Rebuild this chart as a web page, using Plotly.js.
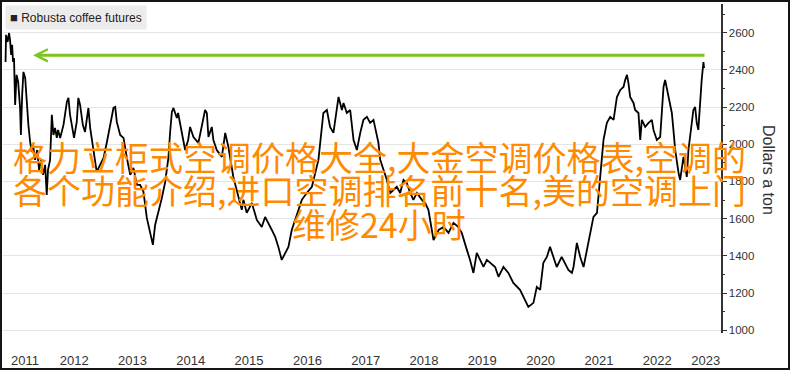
<!DOCTYPE html>
<html>
<head>
<meta charset="utf-8">
<script src="https://cdn.plot.ly/plotly-3.0.1.min.js"></script>
<style>
  html, body { margin: 0; padding: 0; background: #fff; }
  #wrap { position: relative; width: 790px; height: 372px; }
  #chart { width: 790px; height: 372px; }
  #frame { position: absolute; left: 0; top: 0; width: 790px; height: 370px; box-sizing: border-box; border: 2px solid #151515; pointer-events: none; }
</style>
</head>
<body>
<div id="wrap"><div id="chart"></div><div id="frame"></div></div>
<script>
// ---- data ----
const seriesName = 'Robusta coffee futures';
const dates = [
'2011-04-28','2011-05-01','2011-05-11','2011-05-20','2011-05-26','2011-06-02','2011-06-08','2011-06-14','2011-06-20','2011-06-27',
'2011-07-06','2011-07-16','2011-07-28','2011-08-02','2011-08-10','2011-08-18','2011-08-29','2011-09-08','2011-09-18','2011-09-29',
'2011-10-09','2011-10-17','2011-10-30','2011-11-12','2011-11-24','2011-12-07','2011-12-19','2012-01-01','2012-01-11','2012-01-19',
'2012-02-01','2012-02-12','2012-02-22','2012-03-03','2012-03-14','2012-03-22','2012-04-04','2012-04-25','2012-05-16','2012-05-26',
'2012-06-05','2012-06-16','2012-06-30','2012-07-17','2012-07-27','2012-08-07','2012-08-24','2012-09-07','2012-09-28','2012-10-09',
'2012-10-29','2012-11-19','2012-12-10','2013-01-01','2013-01-22','2013-02-11','2013-03-04','2013-03-15','2013-03-25','2013-04-15',
'2013-05-06','2013-05-27','2013-06-17','2013-07-07','2013-07-29','2013-08-18','2013-09-08','2013-09-29','2013-10-20','2013-11-06',
'2013-11-20','2013-12-11','2014-01-01','2014-01-22','2014-02-11','2014-02-22','2014-03-05','2014-03-15','2014-04-05','2014-04-13',
'2014-04-26','2014-05-07','2014-05-27','2014-06-15','2014-06-27','2014-07-18','2014-08-18','2014-09-29','2014-10-10','2014-10-20',
'2014-11-10','2014-11-20','2014-12-11','2015-01-12','2015-02-02','2015-02-22','2015-03-25','2015-05-17','2015-05-27','2015-06-17',
'2015-07-19','2015-08-19','2015-09-19','2015-10-10','2015-10-31','2015-11-21','2015-12-12','2016-01-01','2016-01-22','2016-02-12',
'2016-03-04','2016-03-25','2016-04-15','2016-05-06','2016-05-27','2016-06-27','2016-07-29','2016-09-08','2016-09-29','2016-10-09',
'2016-10-31','2016-11-20','2016-12-11','2017-01-02','2017-01-12','2017-02-02','2017-02-12','2017-03-05','2017-03-26','2017-04-16',
'2017-05-07','2017-05-28','2017-06-17','2017-07-09','2017-07-29','2017-08-19','2017-09-09','2017-09-19','2017-09-30','2017-10-21',
'2017-11-11','2017-12-02','2017-12-22','2018-01-12','2018-02-02','2018-02-23','2018-03-16','2018-04-06','2018-04-26','2018-05-18',
'2018-06-18','2018-07-09','2018-07-29','2018-08-20','2018-08-30','2018-10-01','2018-11-01','2018-12-02','2019-01-02','2019-02-02',
'2019-02-23','2019-03-27','2019-04-16','2019-05-07','2019-05-28','2019-06-18','2019-07-09','2019-07-30','2019-08-20','2019-09-20',
'2019-10-11','2019-11-11','2019-12-12','2020-01-12','2020-02-23','2020-03-26','2020-04-15','2020-05-17','2020-06-07','2020-06-28',
'2020-07-18','2020-08-09','2020-08-29','2020-09-19','2020-10-10','2020-11-10','2020-12-01','2020-12-22','2021-01-13','2021-01-23',
'2021-02-13','2021-03-06','2021-03-27','2021-04-17','2021-05-08','2021-05-28','2021-06-19','2021-07-09','2021-07-30','2021-08-20',
'2021-09-10','2021-10-01','2021-10-22','2021-11-12','2021-12-02','2021-12-13','2021-12-24','2022-01-02','2022-01-13','2022-02-03',
'2022-02-13','2022-03-06','2022-03-17','2022-03-27','2022-04-17','2022-05-08','2022-05-29','2022-06-08','2022-06-29','2022-07-20',
'2022-07-31','2022-08-10','2022-08-20','2022-09-10','2022-10-01','2022-10-11','2022-10-22','2022-11-12','2022-11-22','2022-12-13',
'2023-01-03','2023-01-13','2023-02-03','2023-02-13','2023-02-24','2023-03-06','2023-03-16','2023-03-27','2023-04-06','2023-04-17',
'2023-04-21'
];
const prices = [
2442,2588,2550,2598,2561,2480,2534,2442,2464,2211,
2373,2335,2195,2050,2265,2389,2356,2195,2104,2012,
1959,1996,1916,1969,1862,1916,1835,1889,1727,1862,
1916,2158,2050,2088,2034,2077,2034,2104,2227,2249,
2158,2104,2034,2120,2249,2211,2104,2066,2195,2088,
1959,1851,1889,1926,2012,2104,2195,2200,2120,2050,
2034,1926,1835,1873,1781,1781,1744,1604,1529,1459,
1566,1636,1711,1797,1926,2066,2174,2195,2141,2168,
2104,2061,1969,2023,2093,2039,2007,2184,2168,2039,
2093,2023,1969,1932,2061,1985,1824,1647,1701,1631,
1684,1593,1555,1609,1577,1539,1502,1448,1378,1416,
1448,1539,1593,1647,1701,1738,1771,1916,2093,2168,
2184,2093,2061,2184,2254,2184,2222,2168,2184,2023,
1969,2061,2131,2147,2115,2131,2039,2007,1916,1862,
1808,1738,1754,1771,1738,1808,1792,1738,1701,1738,
1701,1684,1647,1523,1485,1539,1555,1523,1577,1555,
1523,1432,1378,1308,1416,1378,1340,1378,1362,1340,
1287,1340,1308,1254,1217,1163,1125,1147,1233,1217,
1362,1394,1448,1394,1340,1394,1362,1324,1308,1340,
1469,1394,1340,1432,1539,1609,1631,1846,2023,2115,
2147,2131,2254,2292,2308,2346,2373,2330,2254,2222,
2184,2168,2023,2131,2093,2115,2131,2077,2023,2039,
2168,2308,2346,2254,2168,2077,1969,1846,1808,1932,
1824,1969,2131,2184,2200,2115,2077,2254,2346,2442,
2410
];
const yearLabels = ['2011','2012','2013','2014','2015','2016','2017','2018','2019','2020','2021','2022','2023'];
const yearLabelDates = ['2011-08-28','2012-07-01','2013-07-01','2014-07-01','2015-07-01','2016-07-01','2017-07-01','2018-07-01','2019-07-01','2020-07-01','2021-07-01','2022-07-01','2023-05-01'];
const yTickVals = [1000,1200,1400,1600,1800,2000,2200,2400,2600];
const yTitle = 'Dollars a ton';
const arrowLevel = 2478;
const arrowFrom = '2023-05-03';
const arrowTo = '2011-10-17';
const overlayLines = [
  '格力立柜式空调价格大全,大金空调价格表,空调的',
  '各个功能介绍,进口空调排名前十名,美的空调上门',
  '维修24小时'
];

// ---- chart ----
const xRange = ['2011-04-12', '2023-08-05'];
const yRange = [985, 2754];
const gridColor = '#e4e4e4';
const textColor = '#333333';

const trace = {
  x: dates, y: prices, type: 'scatter', mode: 'lines', name: seriesName,
  line: { color: '#000000', width: 1.8 }, hoverinfo: 'x+y', xaxis: 'x', yaxis: 'y'
};

const overlayY = [0.535, 0.435, 0.334];
const annotations = [
  {
    xref: 'paper', yref: 'paper', x: 0.003, y: 0.997, xanchor: 'left', yanchor: 'top',
    text: '<span style="font-size:13px">■</span> ' + seriesName, showarrow: false,
    bgcolor: '#ececec', borderpad: 4,
    font: { family: 'Liberation Sans, Arial, sans-serif', size: 12, color: '#222' }
  },
  {
    x: arrowTo, y: arrowLevel, xref: 'x', yref: 'y',
    ax: arrowFrom, ay: arrowLevel, axref: 'x', ayref: 'y',
    text: '', showarrow: true, arrowhead: 5, arrowsize: 0.8, arrowwidth: 3,
    arrowcolor: '#7dc51e', standoff: 0, startstandoff: 0
  },
  {
    xref: 'paper', yref: 'paper', x: 1.067, y: 0.495, xanchor: 'center', yanchor: 'middle',
    text: yTitle, textangle: 90, showarrow: false,
    font: { family: 'Liberation Sans, Arial, sans-serif', size: 16, color: textColor }
  }
];
overlayLines.forEach((t, i) => {
  annotations.push({
    xref: 'paper', yref: 'paper', x: 0.5237, y: overlayY[i], xanchor: 'center', yanchor: 'middle',
    text: t, showarrow: false,
    font: { family: 'Noto Sans CJK SC, sans-serif', size: 34, color: '#ff8a00' }
  });
});

const layout = {
  width: 790, height: 372,
  margin: { l: 3, r: 69, t: 4, b: 39, pad: 0 },
  paper_bgcolor: '#ffffff', plot_bgcolor: '#ffffff',
  showlegend: false,
  xaxis: {
    type: 'date', range: xRange, tickmode: 'array', tickvals: yearLabelDates, ticktext: yearLabels,
    showgrid: false, zeroline: false, showline: false, ticks: '',
    ticklabelstandoff: 18,
    tickfont: { family: 'Liberation Sans, Arial, sans-serif', size: 13, color: textColor },
    fixedrange: true
  },
  xaxis2: {
    type: 'date', range: xRange, overlaying: 'x', anchor: 'y', side: 'bottom',
    tickmode: 'linear', tick0: '2012-01-01', dtick: 'M24',
    showgrid: true, gridcolor: gridColor, gridwidth: 1, showticklabels: false, ticks: '',
    zeroline: false, showline: false, fixedrange: true
  },
  yaxis: {
    side: 'right', range: yRange, tickmode: 'array', tickvals: yTickVals,
    showgrid: true, gridcolor: gridColor, gridwidth: 1, zeroline: false,
    showline: true, linecolor: '#333', linewidth: 1.5,
    ticks: 'outside', ticklen: 4, tickwidth: 1, tickcolor: '#333',
    minor: { dtick: 100, tick0: 1000, ticks: 'outside', ticklen: 2, tickcolor: '#333', showgrid: false },
    tickfont: { family: 'Liberation Sans, Arial, sans-serif', size: 11.5, color: textColor },
    fixedrange: true
  },
  annotations: annotations
};

Plotly.newPlot('chart', [trace], layout, { displayModeBar: false, staticPlot: true });
</script>
</body>
</html>
